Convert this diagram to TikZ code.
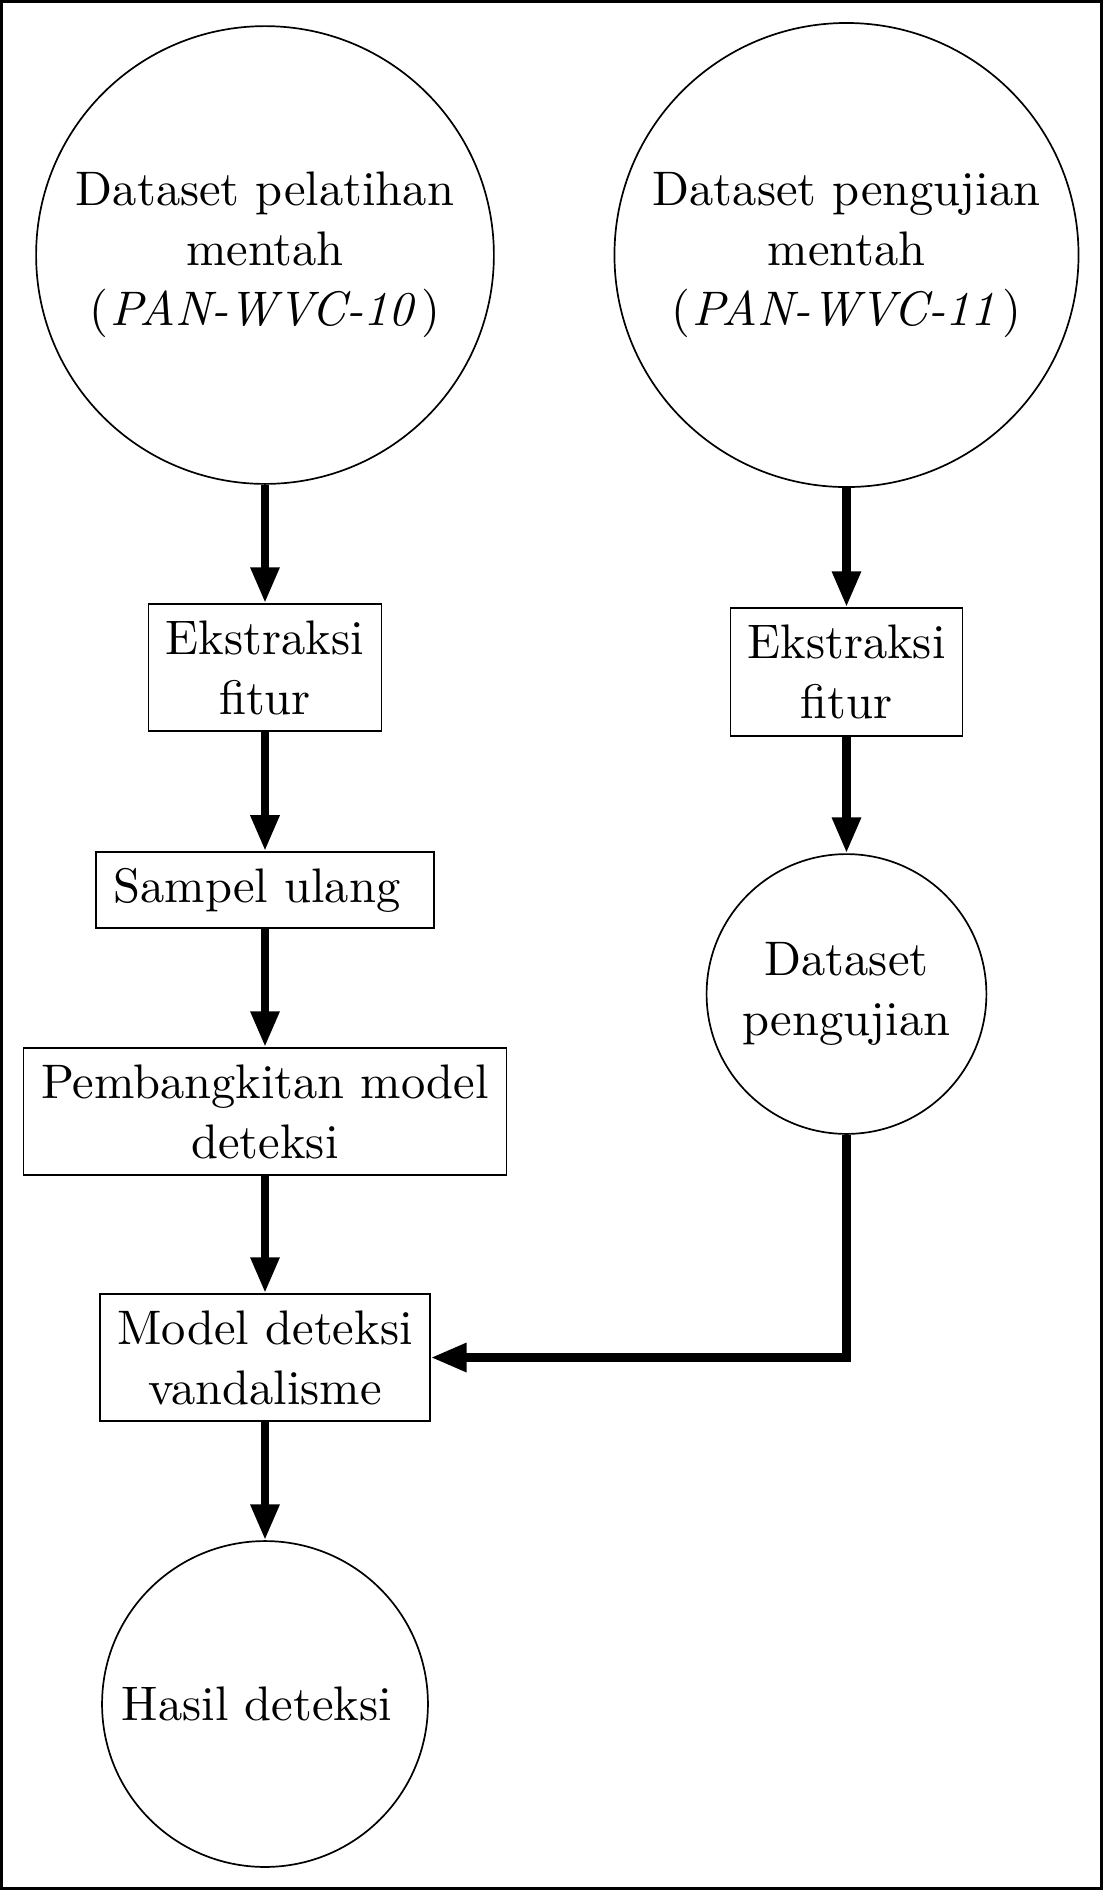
\documentclass[tikz,border=0pt]{standalone}
\usetikzlibrary{arrows.meta}
\begin{document}
\begin{tikzpicture}[x=0.2062pt,y=-0.2062pt,
  txt/.style={font=\fontsize{10}{12.4}\selectfont},
  box/.style={txt,draw,line width=0.35pt,rectangle,inner sep=0pt},
  circ/.style={txt,draw,line width=0.35pt,circle,inner sep=0pt},
  conn/.style={line width=1.75pt,-{Triangle[length=7.4pt,width=5.6pt]}}]
\useasboundingbox (0,0) rectangle (1103,1890);
\draw[line width=0.62pt] (1.5,1.5) rectangle (1101.5,1888.5);

\node[circ,align=center,minimum size=94.4pt] (c1) at (265,255)
  {Dataset pelatihan\\mentah\\(\kern0.4pt\textit{PAN-WVC-10}\kern1.4pt)};
\node[circ,align=center,minimum size=95.7pt] (c2) at (846.5,255)
  {Dataset pengujian\\mentah\\(\kern0.4pt\textit{PAN-WVC-11}\kern1.4pt)};

\node[box,align=center,minimum width=48.0pt,minimum height=26.2pt] (e1) at (265,667.5)
  {Ekstraksi\\fitur};
\node[box,align=center,minimum width=47.8pt,minimum height=26.4pt] (e2) at (846.5,672)
  {Ekstraksi\\fitur};

\node[box,minimum width=69.7pt,minimum height=15.7pt] (s) at (265,890)
  {Sampel ulang\kern3.33pt};
\node[circ,align=center,minimum size=57.7pt] (c3) at (846.5,994)
  {Dataset\\pengujian};

\node[box,align=center,minimum width=99.6pt,minimum height=26.2pt] (p) at (265,1111.5)
  {Pembangkitan model\\deteksi};
\node[box,align=center,minimum width=68.0pt,minimum height=26.2pt] (m) at (265,1357.5)
  {Model deteksi\\vandalisme};
\node[circ,minimum size=67.2pt] (h) at (265,1704)
  {Hasil deteksi\kern3.33pt};

\draw[conn] (c1) -- (e1);
\draw[conn] (e1) -- (s);
\draw[conn] (s) -- (p);
\draw[conn] (p) -- (m);
\draw[conn] (m) -- (h);
\draw[conn] (c2) -- (e2);
\draw[conn] (e2) -- (c3);
\draw[conn] (c3) |- (m);
\end{tikzpicture}
\end{document}
